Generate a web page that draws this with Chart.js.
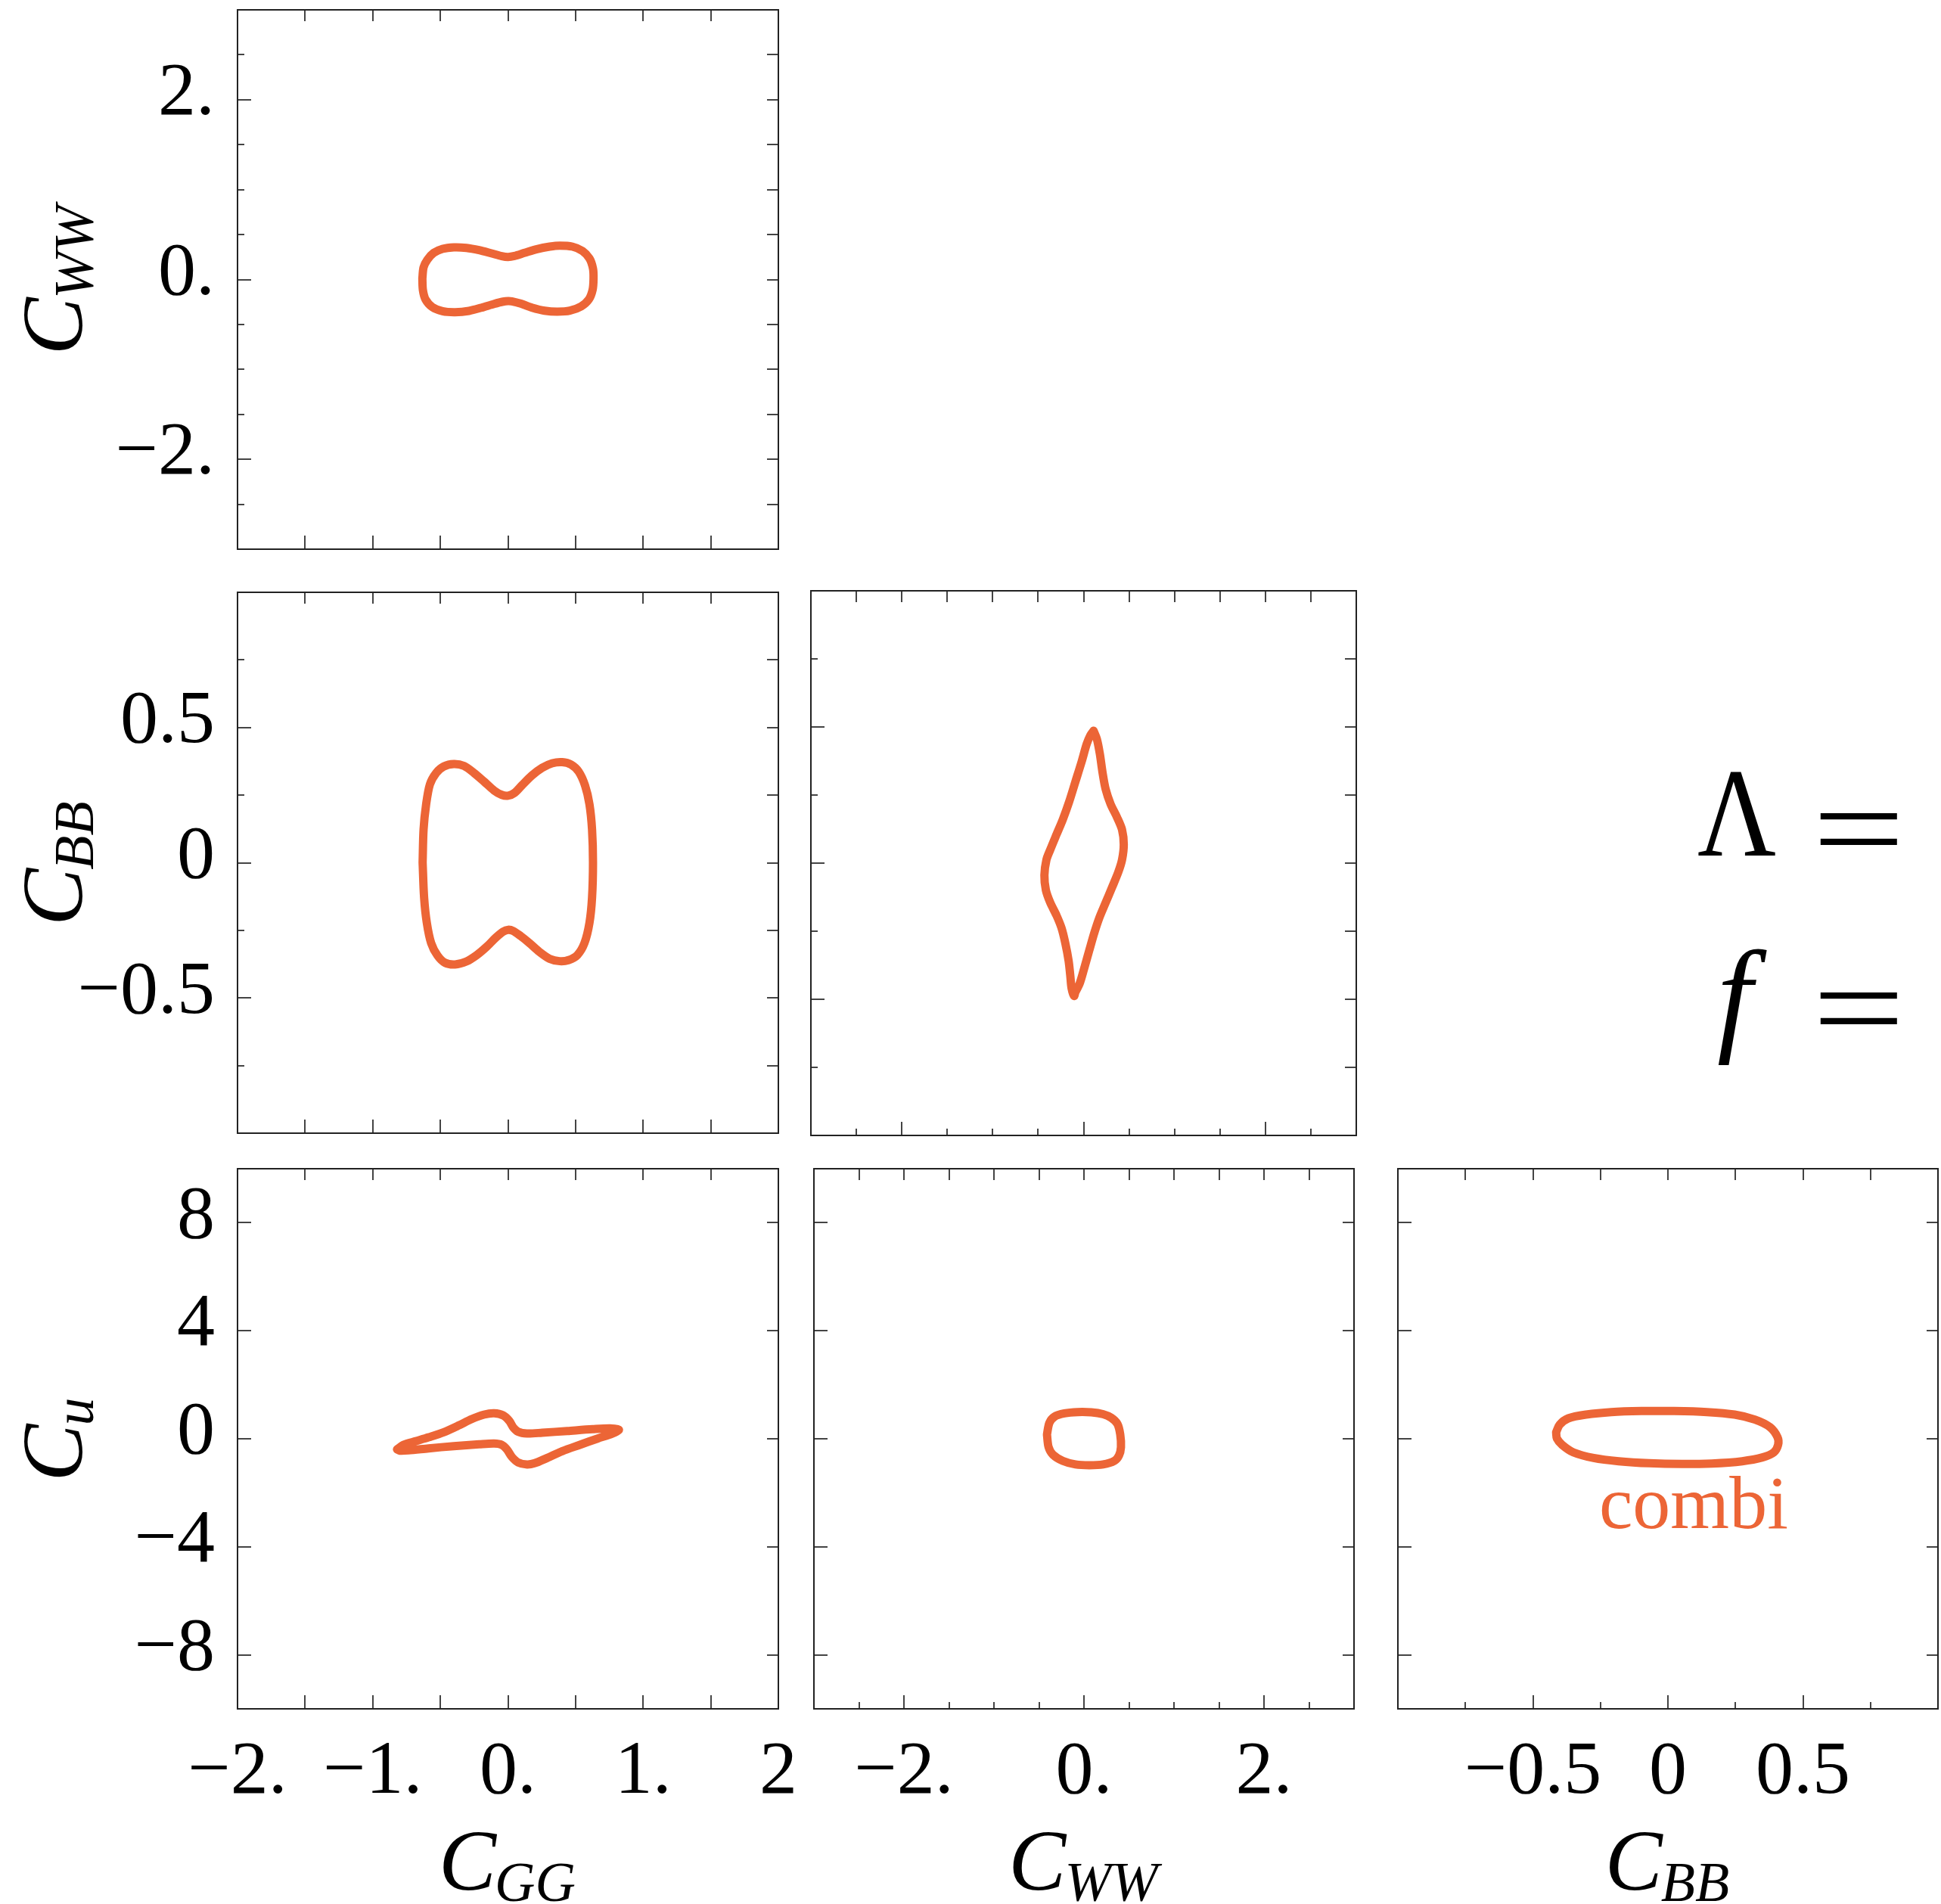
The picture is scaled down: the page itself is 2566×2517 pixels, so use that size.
<!DOCTYPE html>
<html>
<head>
<meta charset="utf-8">
<script src="https://cdn.jsdelivr.net/npm/chart.js@4.4.1/dist/chart.umd.min.js"></script>
<style>
  html, body { margin: 0; padding: 0; background: #fff; }
  #page { position: relative; width: 2566px; height: 2517px; overflow: hidden; background: #fff; }
  #page canvas { position: absolute; }
  .sym { position: absolute; font-family: 'Liberation Serif', serif; font-size: 167px; line-height: 167px; color: #000; white-space: nowrap; transform-origin: 0 0; }
  .eq { transform: scaleX(1.3); }
</style>
</head>
<body>
<div id="page">
  <span class="sym" style="left:2244px;top:991px;transform:scaleX(0.86)">Λ</span>
  <span class="sym eq" style="left:2396px;top:1012px">=</span>
  <span class="sym" style="left:2270px;top:1232px;font-style:italic">f</span>
  <span class="sym eq" style="left:2396px;top:1249px">=</span>
</div>
<script>
// ---- axes: ranges, inner tick marks, labelled ticks ----
const ggRange = [-2, 2];
const ggTicks = [-1.5, -1, -0.5, 0, 0.5, 1, 1.5];
const ggMajor = [-1.5, -1, -0.5, 0, 0.5, 1, 1.5];
const ggLabelVals = [-2, -1, 0, 1, 2];
const ggLabels = ['−2.', '−1.', '0.', '1.', '2'];

const wwRange = [-3, 3];
const wwTicks = [-2.5, -2, -1.5, -1, -0.5, 0, 0.5, 1, 1.5, 2, 2.5];
const wwMajor = [-2, 0, 2];
const wwLabelVals = [-2, 0, 2];
const wwLabels = ['−2.', '0.', '2.'];

const bbRange = [-1, 1];
const bbTicks = [-0.75, -0.5, -0.25, 0, 0.25, 0.5, 0.75];
const bbMajor = [-0.5, 0, 0.5];
const bbLabelVals = [-0.5, 0, 0.5];
const bbLabels = ['−0.5', '0', '0.5'];

const cuRange = [-10, 10];
const cuTicks = [-8, -4, 0, 4, 8];
const cuMajor = [-8, -4, 0, 4, 8];
const cuLabelVals = [-8, -4, 0, 4, 8];
const cuLabels = ['−8', '−4', '0', '4', '8'];

// ---- contours ----
// C_GG vs C_WW
const ggWW_x = [-0.633,-0.624,-0.596,-0.549,-0.484,-0.400,-0.307,-0.214,-0.120,-0.046,0.001,0.048,0.122,0.215,0.309,0.383,0.476,0.551,0.603,0.629,0.633,0.626,0.598,0.542,0.458,0.365,0.271,0.178,0.094,0.029,0.001,-0.036,-0.102,-0.195,-0.288,-0.391,-0.484,-0.559,-0.609,-0.629,-0.633];
const ggWW_y = [0.010,0.136,0.220,0.296,0.341,0.358,0.352,0.327,0.290,0.260,0.251,0.262,0.296,0.338,0.366,0.377,0.366,0.318,0.234,0.122,0.010,-0.116,-0.223,-0.299,-0.347,-0.358,-0.347,-0.313,-0.268,-0.243,-0.240,-0.246,-0.271,-0.313,-0.349,-0.363,-0.352,-0.307,-0.223,-0.116,0.010];
// C_GG vs C_BB
const ggBB_x = [-0.631,-0.624,-0.605,-0.577,-0.531,-0.475,-0.400,-0.325,-0.251,-0.176,-0.102,-0.046,0.001,0.048,0.103,0.178,0.253,0.327,0.402,0.467,0.523,0.570,0.603,0.622,0.629,0.622,0.603,0.566,0.514,0.448,0.383,0.308,0.234,0.159,0.094,0.038,0.001,-0.036,-0.092,-0.158,-0.232,-0.307,-0.391,-0.465,-0.521,-0.568,-0.600,-0.620,-0.631];
const ggBB_y = [0.001,0.123,0.216,0.290,0.332,0.356,0.365,0.358,0.332,0.300,0.267,0.251,0.248,0.258,0.286,0.323,0.351,0.368,0.372,0.363,0.337,0.286,0.216,0.123,0.001,-0.129,-0.222,-0.297,-0.341,-0.360,-0.364,-0.355,-0.330,-0.297,-0.271,-0.252,-0.248,-0.255,-0.278,-0.311,-0.342,-0.365,-0.376,-0.370,-0.343,-0.297,-0.222,-0.129,0.001];
// C_WW vs C_BB
const wwBB_x = [0.110,0.146,0.179,0.207,0.243,0.298,0.367,0.423,0.442,0.423,0.381,0.312,0.243,0.173,0.118,0.062,0.007,-0.043,-0.090,-0.104,-0.132,-0.146,-0.165,-0.201,-0.243,-0.298,-0.367,-0.415,-0.431,-0.409,-0.367,-0.298,-0.229,-0.159,-0.090,-0.021,0.035,0.076,0.110];
const wwBB_y = [0.486,0.456,0.401,0.336,0.271,0.216,0.169,0.123,0.068,0.012,-0.034,-0.090,-0.145,-0.201,-0.256,-0.321,-0.386,-0.442,-0.474,-0.488,-0.460,-0.414,-0.358,-0.294,-0.238,-0.192,-0.145,-0.099,-0.044,0.012,0.049,0.105,0.160,0.225,0.299,0.373,0.438,0.470,0.486];
// C_GG vs C_u
const ggCu_x = [-0.820,-0.773,-0.680,-0.587,-0.475,-0.363,-0.269,-0.176,-0.102,-0.036,0.010,0.038,0.076,0.141,0.253,0.439,0.626,0.756,0.821,0.775,0.663,0.532,0.402,0.290,0.197,0.141,0.076,0.029,-0.008,-0.046,-0.102,-0.213,-0.400,-0.587,-0.736,-0.801,-0.820];
const ggCu_y = [-0.392,-0.224,-0.084,0.056,0.243,0.495,0.728,0.896,0.943,0.868,0.663,0.430,0.261,0.196,0.224,0.289,0.355,0.383,0.336,0.196,0.009,-0.224,-0.458,-0.710,-0.906,-0.952,-0.878,-0.672,-0.392,-0.224,-0.177,-0.205,-0.271,-0.355,-0.430,-0.439,-0.392];
// C_WW vs C_u
const wwCu_x = [-0.411,-0.384,-0.327,-0.217,-0.072,0.082,0.213,0.302,0.372,0.403,0.411,0.389,0.337,0.213,0.060,-0.094,-0.235,-0.345,-0.393,-0.411];
const wwCu_y = [0.16,0.59,0.82,0.94,0.99,0.98,0.91,0.78,0.55,0.16,-0.31,-0.62,-0.82,-0.95,-0.98,-0.95,-0.82,-0.59,-0.31,0.16];
// C_BB vs C_u
const bbCu_x = [-0.414,-0.401,-0.369,-0.303,-0.210,-0.098,0.023,0.145,0.247,0.322,0.378,0.406,0.408,0.392,0.350,0.275,0.163,0.051,-0.070,-0.182,-0.275,-0.350,-0.392,-0.411,-0.414];
const bbCu_y = [0.243,0.523,0.756,0.896,0.990,1.027,1.027,0.990,0.896,0.710,0.430,0.056,-0.224,-0.504,-0.691,-0.831,-0.915,-0.934,-0.906,-0.831,-0.710,-0.504,-0.224,0.009,0.243];

// label inside the last panel
const combiText = 'combi';
const combiX = -0.255;
const combiY = -3.3;

const ggTitle = ['C', 'GG'];
const wwTitle = ['C', 'WW'];
const bbTitle = ['C', 'BB'];
const cuTitle = ['C', 'u'];

const ORANGE = '#EC6536';
const FONT = "'Liberation Serif', 'Times New Roman', serif";

const gg = { range: ggRange, ticks: ggTicks, major: ggMajor, labelVals: ggLabelVals, labels: ggLabels };
const ww = { range: wwRange, ticks: wwTicks, major: wwMajor, labelVals: wwLabelVals, labels: wwLabels };
const bb = { range: bbRange, ticks: bbTicks, major: bbMajor, labelVals: bbLabelVals, labels: bbLabels };
const cu = { range: cuRange, ticks: cuTicks, major: cuMajor, labelVals: cuLabelVals, labels: cuLabels };

// panel boxes in page pixels: left, top, right, bottom
const panels = [
  { box: [314, 13, 1029, 726],    x: gg, y: ww, cx: ggWW_x, cy: ggWW_y, showX: false, showY: true, yTitle: wwTitle },
  { box: [314, 783, 1029, 1498],  x: gg, y: bb, cx: ggBB_x, cy: ggBB_y, showX: false, showY: true, yTitle: bbTitle },
  { box: [1072, 781, 1793, 1501], x: ww, y: bb, cx: wwBB_x, cy: wwBB_y, showX: false, showY: false },
  { box: [314, 1545, 1029, 2259], x: gg, y: cu, cx: ggCu_x, cy: ggCu_y, showX: true, showY: true, xTitle: ggTitle, yTitle: cuTitle },
  { box: [1076, 1545, 1790, 2259], x: ww, y: cu, cx: wwCu_x, cy: wwCu_y, showX: true, showY: false, xTitle: wwTitle },
  { box: [1848, 1545, 2562, 2259], x: bb, y: cu, cx: bbCu_x, cy: bbCu_y, showX: true, showY: false, xTitle: bbTitle,
    note: { text: combiText, x: combiX, y: combiY } },
];

// canvas margins round each panel; y scale takes the whole left margin, x scale the whole bottom one
const ML = 314, MT = 90, MR = 50, MB = 270;

function drawTitle(ctx, t, x, y, rotate) {
  ctx.save();
  ctx.translate(x, y);
  if (rotate) ctx.rotate(-Math.PI / 2);
  ctx.fillStyle = '#000';
  ctx.textBaseline = 'alphabetic';
  ctx.textAlign = 'left';
  ctx.font = 'italic 114px ' + FONT;
  const w1 = ctx.measureText(t[0]).width;
  ctx.font = 'italic 74px ' + FONT;
  const w2 = ctx.measureText(t[1]).width;
  const start = -(w1 + w2) / 2;
  ctx.font = 'italic 114px ' + FONT;
  ctx.fillText(t[0], start, 0);
  ctx.font = 'italic 74px ' + FONT;
  ctx.fillText(t[1], start + w1 - 2, 15);
  ctx.restore();
}

function framePlugin(p) {
  return {
    id: 'frame',
    afterDraw(chart) {
      const ctx = chart.ctx, a = chart.chartArea;
      const xs = chart.scales.x, ys = chart.scales.y;
      ctx.save();
      ctx.strokeStyle = '#444';
      ctx.lineWidth = 2;
      ctx.beginPath();
      p.x.ticks.forEach(v => {
        const px = Math.round(xs.getPixelForValue(v));
        const len = p.x.major.includes(v) ? 18 : 9;
        ctx.moveTo(px, a.bottom); ctx.lineTo(px, a.bottom - len);
        ctx.moveTo(px, a.top); ctx.lineTo(px, a.top + 15);
      });
      p.y.ticks.forEach(v => {
        const py = Math.round(ys.getPixelForValue(v));
        const len = p.y.major.includes(v) ? 18 : 9;
        ctx.moveTo(a.left, py); ctx.lineTo(a.left + len, py);
        ctx.moveTo(a.right, py); ctx.lineTo(a.right - 15, py);
      });
      ctx.stroke();
      ctx.strokeStyle = '#222';
      ctx.strokeRect(a.left, a.top, a.right - a.left, a.bottom - a.top);
      if (p.xTitle) drawTitle(ctx, p.xTitle, (a.left + a.right) / 2, a.bottom + 239, false);
      if (p.yTitle) drawTitle(ctx, p.yTitle, a.left - 206, (a.top + a.bottom) / 2, true);
      if (p.note) {
        ctx.fillStyle = ORANGE;
        ctx.font = '100px ' + FONT;
        ctx.textAlign = 'left';
        ctx.textBaseline = 'alphabetic';
        ctx.fillText(p.note.text, xs.getPixelForValue(p.note.x), ys.getPixelForValue(p.note.y));
      }
      ctx.restore();
    }
  };
}

function axisOpts(ax, show, dir) {
  return {
    type: 'linear',
    min: ax.range[0],
    max: ax.range[1],
    grid: { display: false },
    border: { display: false },
    afterBuildTicks: s => { s.ticks = ax.labelVals.map(v => ({ value: v })); },
    afterFit: s => { if (dir === 'x') s.height = MB; else s.width = ML; },
    ticks: {
      display: show,
      autoSkip: false,
      maxRotation: 0,
      minRotation: 0,
      padding: dir === 'x' ? 17 : 22,
      labelOffset: dir === 'x' ? 0 : -7,
      color: '#000',
      font: { family: FONT, size: 100 },
      callback: (v, i) => ax.labels[i]
    }
  };
}

const page = document.getElementById('page');
panels.forEach(p => {
  const [l, t, r, b] = p.box;
  const cw = (r - l) + ML + MR, ch = (b - t) + MT + MB;
  const cv = document.createElement('canvas');
  cv.width = cw; cv.height = ch;
  cv.style.left = (l - ML) + 'px';
  cv.style.top = (t - MT) + 'px';
  cv.style.width = cw + 'px';
  cv.style.height = ch + 'px';
  page.appendChild(cv);
  new Chart(cv, {
    type: 'scatter',
    data: {
      datasets: [{
        data: p.cx.map((x, i) => ({ x: x, y: p.cy[i] })),
        showLine: true,
        fill: false,
        borderColor: ORANGE,
        borderWidth: 11,
        borderJoinStyle: 'round',
        borderCapStyle: 'round',
        pointRadius: 0,
        tension: 0.3
      }]
    },
    options: {
      responsive: false,
      animation: false,
      devicePixelRatio: 1,
      layout: { padding: { left: 0, top: MT, right: MR, bottom: 0 } },
      plugins: { legend: { display: false }, tooltip: { enabled: false } },
      scales: { x: axisOpts(p.x, p.showX, 'x'), y: axisOpts(p.y, p.showY, 'y') }
    },
    plugins: [framePlugin(p)]
  });
});
</script>
</body>
</html>
